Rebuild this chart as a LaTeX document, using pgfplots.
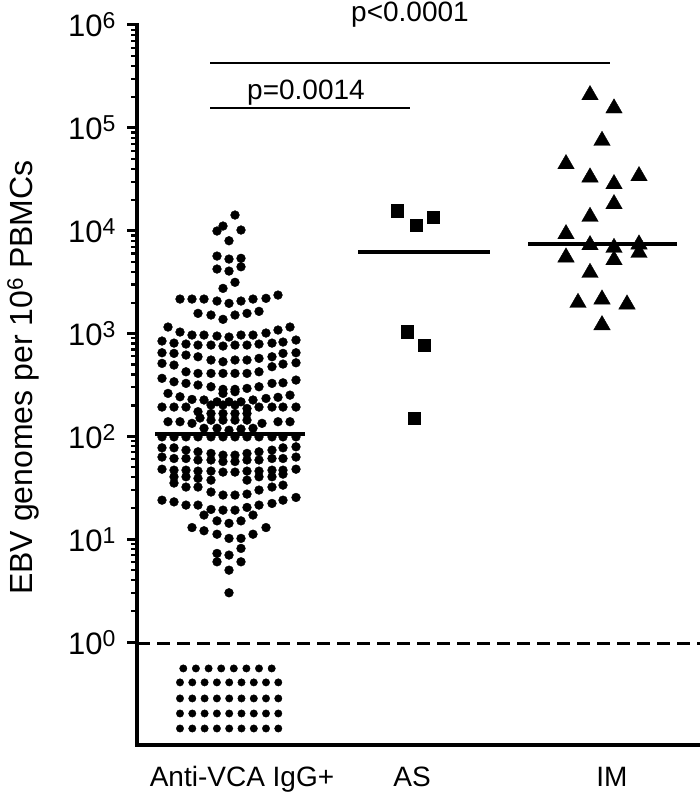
\documentclass[border=0pt]{standalone}
\usepackage{pgfplots}
\pgfplotsset{compat=1.18}
\usepackage{fontspec}
\setmainfont{Liberation Sans}
\newcommand\tp[1]{10\raisebox{8pt}{\fontsize{23}{23}\selectfont #1}}
\begin{document}
\begin{tikzpicture}
\path[use as bounding box] (0,0) rectangle (700pt,795pt);
\begin{axis}[
  at={(137pt,50pt)}, anchor=south west,
  scale only axis, width=563pt, height=720pt,
  xmin=137, xmax=700, ymin=0.1, ymax=1e6, ymode=log,
  axis x line*=bottom, axis y line*=left,
  axis line style={line width=3.5pt, line cap=rect},
  xtick={242,412,612}, xticklabels={Anti-VCA IgG+, AS, IM},
  major x tick style={draw=none},
  xticklabel style={font=\fontsize{28}{30}\selectfont, anchor=base, yshift=-32pt},
  ytick={1,10,100,1000,10000,100000,1000000},
  yticklabels={\tp{0},\tp{1},\tp{2},\tp{3},\tp{4},\tp{5},\tp{6}},
  yticklabel style={font=\fontsize{31}{34}\selectfont, xshift=-8pt},
  minor ytick={2,3,4,5,6,7,8,9,20,30,40,50,60,70,80,90,200,300,400,500,600,700,800,900,2000,3000,4000,5000,6000,7000,8000,9000,20000,30000,40000,50000,60000,70000,80000,90000,200000,300000,400000,500000,600000,700000,800000,900000},
  tick align=outside,
  major tick length=10pt, minor tick length=6pt,
  major tick style={line width=3pt, black},
  minor tick style={line width=2.2pt, black},
  clip=false,
]
% dashed detection limit
\addplot[line width=3.5pt, dash pattern=on 13pt off 7pt] coordinates {(137,0.97) (700,0.97)};
% group 1 (Anti-VCA IgG+)
\addplot[only marks, mark=*, mark size=4.4pt, black] coordinates {
(235,14200) (223,11100) (217,9930) (241,10150) (229,7990)
(217,5670) (229,5300) (241,5390)
(217,4240) (229,4050) (241,4460)
(235,3150) (223,2750)
(180,2165) (192,2165) (204,2165) (217,2071) (229,1967) (241,2071) (253,2165) (266,2200) (278,2368)
(198,1572) (211,1514) (223,1375) (235,1514) (247,1572) (259,1644)
(168,1157) (180,1034) (192,967) (204,967) (217,946) (229,925) (241,967) (253,967) (266,1012) (278,1082) (290,1157)
(162,846) (174,808) (186,791) (198,773) (211,773) (223,756) (235,773) (247,773) (259,791) (272,808) (283,827) (296,865)
(162,651) (174,642) (186,618) (198,595) (211,553) (223,532) (235,553) (247,553) (259,574) (272,595) (283,642) (296,651)
(162,513) (174,494) (186,425) (198,410) (211,410) (223,410) (235,410) (247,410) (259,425) (272,476) (283,505) (296,520)
(162,367) (174,340) (186,328) (198,316) (211,304) (223,287) (235,287) (247,293) (259,304) (272,328) (283,332) (296,353)
(223,262) (235,272)
(168,262) (180,243) (192,229) (204,226) (217,217) (229,217) (241,217) (253,226) (266,234) (278,240) (290,252)
(162,193) (174,193) (186,193) (198,174) (211,202) (223,202) (235,202) (247,187) (259,193) (272,193) (283,193) (296,193)
(211,167) (223,167) (235,167) (247,167) (211,144) (223,144) (235,144) (247,144)
(168,139) (180,139) (192,134) (200,151) (262,134) (278,139) (290,139)
(204,120) (217,120) (229,115) (241,118) (253,120)
(162,99) (174,99) (186,99) (198,99) (211,99) (223,99) (235,99) (247,99) (259,99) (272,99) (283,99) (296,99)
(162,77.5) (174,77.5) (186,73.6) (198,70.9) (211,68.4) (223,65.8) (235,65.8) (247,68.4) (259,70.9) (272,73.6) (283,77.5) (296,79.3)
(162,63) (174,61) (186,61) (198,59) (211,59) (223,57) (235,57) (247,59) (259,59) (272,61) (283,61) (296,63)
(162,48) (174,47) (186,47) (198,46) (211,46) (223,45) (235,45) (247,46) (259,46) (272,47) (283,47) (296,48)
(174,40.5) (186,40.5) (198,39.1) (211,37.6) (247,37.6) (259,40.5) (272,40.5) (283,43.0)
(174,35.2) (186,32.2) (198,32.2) (211,28.8) (223,26.9) (235,26.9) (247,27.5) (259,30.1) (272,32.2) (283,33.6)
(162,24.0) (174,23.1) (186,21.5) (198,21.5) (211,19.5) (223,19.2) (235,19.2) (247,20.4) (259,21.5) (272,22.3) (283,24.0) (296,25.5)
(204,17.2) (217,15.1) (229,14.3) (241,15.1) (253,17.2)
(192,13.0) (204,12.1) (217,11.2) (229,10.2) (241,10.2) (253,11.2) (266,13.0)
(241,8.15) (217,7.29) (229,7.02) (217,6.04) (241,6.04) (229,5.01) (229,3.02)
};
% group 1 below detection
\addplot[only marks, mark=*, mark size=3.7pt, black] coordinates {
(183.3,0.555) (195.9,0.555) (208.6,0.555) (221.2,0.555) (233.8,0.555) (246.4,0.555) (259.0,0.555) (271.7,0.555)
(180,0.406) (192.3,0.406) (204.6,0.406) (216.9,0.406) (229.2,0.406) (241.5,0.406) (253.8,0.406) (266.0,0.406) (278.3,0.406)
(180,0.2836) (192.3,0.2836) (204.6,0.2836) (216.9,0.2836) (229.2,0.2836) (241.5,0.2836) (253.8,0.2836) (266.0,0.2836) (278.3,0.2836)
(180,0.2025) (192.3,0.2025) (204.6,0.2025) (216.9,0.2025) (229.2,0.2025) (241.5,0.2025) (253.8,0.2025) (266.0,0.2025) (278.3,0.2025)
(180,0.1447) (192.3,0.1447) (204.6,0.1447) (216.9,0.1447) (229.2,0.1447) (241.5,0.1447) (253.8,0.1447) (266.0,0.1447) (278.3,0.1447)
};
% AS
\addplot[only marks, mark=square*, mark size=6.3pt, black] coordinates {
(397,15645) (416,11360) (433,13495) (407,1041) (424,773) (414,151)
};
% IM
\addplot[only marks, mark=triangle*, mark size=9.5pt, black] coordinates {
(590,208600) (614,154950) (602,75000) (566,44510) (590,33050) (639,34030) (614,28440)
(614,18180) (590,13680) (566,9283) (590,7256) (614,6832) (639,7372) (639,6107)
(566,5510) (614,5187) (590,3904) (578,1994) (602,2151) (627,1924) (602,1210)
};
% medians
\addplot[line width=4pt] coordinates {(155,105) (305,105)};
\addplot[line width=4pt] coordinates {(358,6246) (490,6246)};
\addplot[line width=4pt] coordinates {(528,7422) (677,7422)};
% significance bars
\addplot[line width=2pt] coordinates {(210,427000) (610,427000)};
\addplot[line width=2pt] coordinates {(210,156000) (410,156000)};
\node[anchor=base, font=\fontsize{28}{30}\selectfont] at (axis cs:410,1.07e6) {p<0.0001};
\node[anchor=base, font=\fontsize{28}{30}\selectfont] at (axis cs:306,186600) {p=0.0014};
\end{axis}
\node[rotate=90, anchor=base, font=\fontsize{32}{36}\selectfont] at (32pt,417.5pt) {EBV genomes per 10\textsuperscript{6} PBMCs};
\end{tikzpicture}
\end{document}
